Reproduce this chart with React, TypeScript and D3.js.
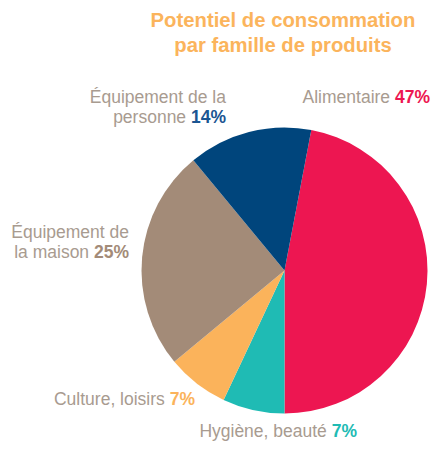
import React from 'react';
import * as d3 from 'd3';

// data
const categories = ['Alimentaire', 'Hygiène, beauté', 'Culture, loisirs', 'Équipement de la maison', 'Équipement de la personne'];
const shares = [47, 7, 7, 25, 14];
const colors = ['#ED1651', '#1FBBB4', '#FBB35B', '#A38B78', '#00457C'];
const pctColors = ['#ED1651', '#1FBBB4', '#FBB35B', '#A38B78', '#1B5592'];
const labelLines = [
    ['Alimentaire'],
    ['Hygiène, beauté'],
    ['Culture, loisirs'],
    ['Équipement de', 'la maison'],
    ['Équipement de la', 'personne'],
];
const titleLines = ['Potentiel de consommation', 'par famille de produits'];

// label layout (right edge / baseline of first line)
const labelPos = [
    { x: 430, y: 103 },
    { x: 357, y: 437 },
    { x: 195, y: 405 },
    { x: 129, y: 238 },
    { x: 226, y: 103 },
];

const W = 446;
const H = 451;
const cx = 284.5;
const cy = 270.5;
const radius = 143;
const font = '"Liberation Sans", Arial, Helvetica, sans-serif';

type Slice = { name: string; value: number; i: number };

const App: React.FC = () => {
    const data: Slice[] = categories.map((name, i) => ({ name, value: shares[i], i }));
    const total = d3.sum(shares);
    // first slice ends at the bottom (180°)
    const start = Math.PI - (shares[0] / total) * 2 * Math.PI;
    const pie = d3.pie<Slice>().value(d => d.value).sort(null)
        .startAngle(start).endAngle(start + 2 * Math.PI);
    const arc = d3.arc<d3.PieArcDatum<Slice>>().innerRadius(0).outerRadius(radius);
    const arcs = pie(data);

    return (
        <svg width={W} height={H} style={{ position: 'absolute', left: 0, top: 0 }} fontFamily={font}>
            <rect width={W} height={H} fill="#fff" />
            {titleLines.map((t, k) => (
                <text key={k} x={283} y={27 + k * 25} textAnchor="middle" fontSize={20.3}
                    fontWeight="bold" fill="#FBB45C">{t}</text>
            ))}
            <g transform={`translate(${cx},${cy})`}>
                {arcs.map(a => (
                    <path key={a.data.name} d={arc(a) || ''} fill={colors[a.data.i]} />
                ))}
            </g>
            {data.map((d, i) => {
                const lines = labelLines[i];
                const p = labelPos[i];
                return (
                    <text key={d.name} x={p.x} y={p.y} textAnchor="end" fontSize={17.5} fill="#A89B90">
                        {lines.map((l, k) => (
                            <tspan key={k} x={p.x} dy={k === 0 ? 0 : 20}>
                                {l}
                                {k === lines.length - 1 && (
                                    <tspan fontWeight="bold" fill={pctColors[i]}>{` ${d.value}%`}</tspan>
                                )}
                            </tspan>
                        ))}
                    </text>
                );
            })}
        </svg>
    );
};

export default App;
